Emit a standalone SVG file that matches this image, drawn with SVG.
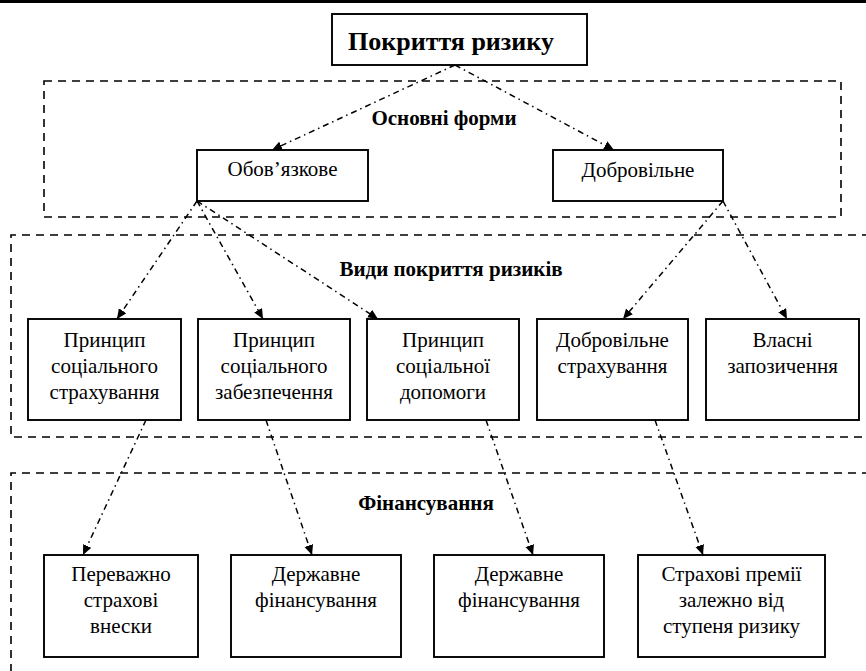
<svg xmlns="http://www.w3.org/2000/svg" width="866" height="671" viewBox="0 0 866 671">
  <style>
    .node { fill: #fff; stroke: #000; stroke-width: 1.9; }
    .group { fill: none; stroke: #000; stroke-width: 1.6; stroke-dasharray: 8 6; }
    .txt { font-family: "Liberation Serif", "Times New Roman", serif; font-size: 21px; fill: #000; text-anchor: middle; }
    .lbl { font-family: "Liberation Serif", "Times New Roman", serif; font-size: 21px; font-weight: bold; fill: #000; text-anchor: middle; }
    .title { font-family: "Liberation Serif", "Times New Roman", serif; font-size: 26px; font-weight: bold; fill: #000; }
    .link { fill: none; stroke: #000; stroke-width: 1.5; stroke-dasharray: 6 4 1.5 4; }
  </style>
  <defs>
    <marker id="arrow" markerUnits="userSpaceOnUse" markerWidth="11" markerHeight="10" refX="10" refY="4.5" orient="auto">
      <path d="M0,0 L10,4.5 L0,9 z" fill="#000"/>
    </marker>
  </defs>

  <rect width="866" height="671" fill="#fff"/>
  <!-- page rule -->
  <line x1="0" y1="1.5" x2="866" y2="1.5" stroke="#000" stroke-width="3"/>

  <!-- dashed group frames -->
  <g id="frames">
    <rect class="group" x="44" y="81" width="797" height="136"/>
    <path class="group" d="M870,235 H11 V437 H870"/>
    <path class="group" d="M870,473 H11 V680"/>
    <text class="lbl" x="444" y="125">Основні форми</text>
    <text class="lbl" x="451" y="276">Види покриття ризиків</text>
    <text class="lbl" x="426" y="510">Фінансування</text>
  </g>

  <!-- connectors -->
  <g id="connectors">
    <line class="link" x1="455" y1="65" x2="272" y2="150" marker-end="url(#arrow)"/>
    <line class="link" x1="455" y1="65" x2="614" y2="150" marker-end="url(#arrow)"/>
    <line class="link" x1="197" y1="201" x2="117" y2="319" marker-end="url(#arrow)"/>
    <line class="link" x1="197" y1="201" x2="263" y2="319" marker-end="url(#arrow)"/>
    <line class="link" x1="197" y1="201" x2="378" y2="319" marker-end="url(#arrow)"/>
    <line class="link" x1="723" y1="201" x2="623" y2="319" marker-end="url(#arrow)"/>
    <line class="link" x1="723" y1="201" x2="787" y2="319" marker-end="url(#arrow)"/>
    <line class="link" x1="146" y1="420" x2="83" y2="555" marker-end="url(#arrow)"/>
    <line class="link" x1="266" y1="420" x2="312" y2="555" marker-end="url(#arrow)"/>
    <line class="link" x1="486" y1="420" x2="533" y2="555" marker-end="url(#arrow)"/>
    <line class="link" x1="655" y1="420" x2="703" y2="555" marker-end="url(#arrow)"/>
  </g>

  <!-- root -->
  <g id="risk-cover">
    <rect class="node" x="332" y="14" width="255" height="51"/>
    <text class="title" x="348" y="50">Покриття ризику</text>
  </g>

  <!-- main forms -->
  <g id="mandatory">
    <rect class="node" x="197" y="150" width="171" height="51"/>
    <text class="txt" x="282.5" y="176">Обов’язкове</text>
  </g>
  <g id="voluntary">
    <rect class="node" x="553" y="150" width="170" height="51"/>
    <text class="txt" x="638" y="177">Добровільне</text>
  </g>

  <!-- kinds of risk cover -->
  <g id="social-insurance">
    <rect class="node" x="28" y="319" width="153" height="101"/>
    <text class="txt" x="104.5" y="347">Принцип</text>
    <text class="txt" x="104.5" y="373">соціального</text>
    <text class="txt" x="104.5" y="399">страхування</text>
  </g>
  <g id="social-security">
    <rect class="node" x="198" y="319" width="152" height="101"/>
    <text class="txt" x="274" y="347">Принцип</text>
    <text class="txt" x="274" y="373">соціального</text>
    <text class="txt" x="274" y="399">забезпечення</text>
  </g>
  <g id="social-assistance">
    <rect class="node" x="367" y="319" width="152" height="101"/>
    <text class="txt" x="443" y="347">Принцип</text>
    <text class="txt" x="443" y="373">соціальної</text>
    <text class="txt" x="443" y="399">допомоги</text>
  </g>
  <g id="voluntary-insurance">
    <rect class="node" x="537" y="319" width="151" height="101"/>
    <text class="txt" x="612.5" y="347">Добровільне</text>
    <text class="txt" x="612.5" y="373">страхування</text>
  </g>
  <g id="own-borrowing">
    <rect class="node" x="706" y="319" width="153" height="101"/>
    <text class="txt" x="782.5" y="347">Власні</text>
    <text class="txt" x="782.5" y="373">запозичення</text>
  </g>

  <!-- financing -->
  <g id="contributions">
    <rect class="node" x="44" y="555" width="154" height="102"/>
    <text class="txt" x="121" y="581">Переважно</text>
    <text class="txt" x="121" y="607">страхові</text>
    <text class="txt" x="121" y="633">внески</text>
  </g>
  <g id="state-funding-1">
    <rect class="node" x="231" y="555" width="170" height="102"/>
    <text class="txt" x="316" y="581">Державне</text>
    <text class="txt" x="316" y="607">фінансування</text>
  </g>
  <g id="state-funding-2">
    <rect class="node" x="434" y="555" width="170" height="102"/>
    <text class="txt" x="519" y="581">Державне</text>
    <text class="txt" x="519" y="607">фінансування</text>
  </g>
  <g id="premiums">
    <rect class="node" x="638" y="555" width="187" height="102"/>
    <text class="txt" x="731.5" y="581">Страхові премії</text>
    <text class="txt" x="731.5" y="607">залежно від</text>
    <text class="txt" x="731.5" y="633">ступеня ризику</text>
  </g>
</svg>
